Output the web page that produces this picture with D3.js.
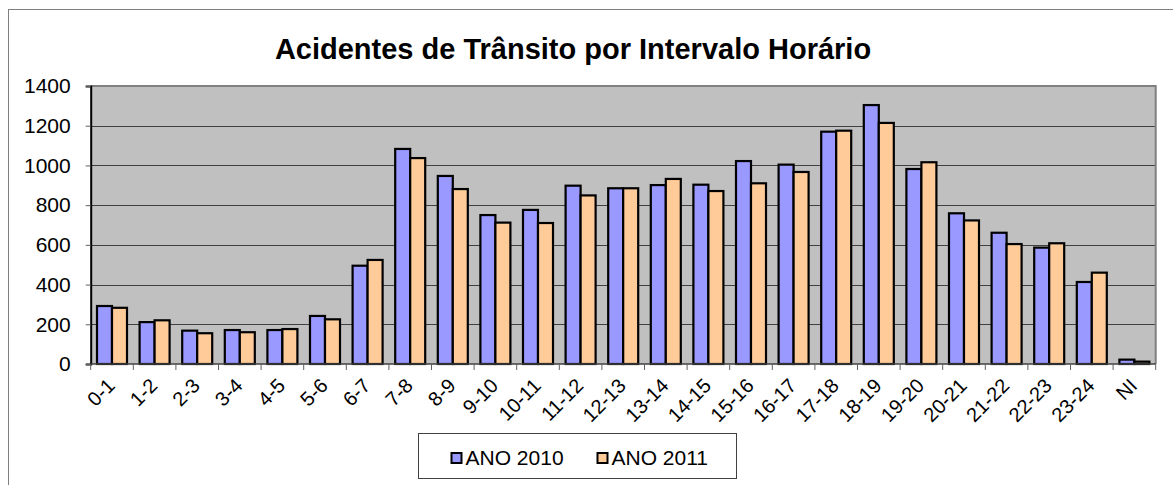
<!DOCTYPE html>
<html>
<head>
<meta charset="utf-8">
<script src="https://cdn.jsdelivr.net/npm/d3@7"></script>
<style>
  body { margin: 0; background: #fff; }
  svg text { font-family: Arial, "Liberation Sans", sans-serif; fill: #000; }
</style>
</head>
<body>
<div id="chart"></div>
<script>
// chart data
const categories = ["0-1","1-2","2-3","3-4","4-5","5-6","6-7","7-8","8-9","9-10","10-11","11-12",
  "12-13","13-14","14-15","15-16","16-17","17-18","18-19","19-20","20-21","21-22","22-23","23-24","NI"];
const ano2010 = [292, 211, 168, 171, 171, 242, 495, 1083, 947, 750, 776, 898,
  885, 901, 903, 1022, 1004, 1170, 1304, 982, 759, 661, 586, 413, 22];
const ano2011 = [283, 220, 155, 160, 176, 225, 524, 1037, 881, 712, 710, 849,
  885, 932, 871, 910, 967, 1175, 1214, 1016, 723, 604, 608, 460, 12];
const seriesNames = ["ANO 2010", "ANO 2011"];
const seriesColors = ["#9999FF", "#FFCC99"];
const yTicks = [0, 200, 400, 600, 800, 1000, 1200, 1400];
const title = "Acidentes de Trânsito por Intervalo Horário";

const width = 1173, height = 485;
const plot = { left: 90.7, top: 86, right: 1155.7, bottom: 364 };

const svg = d3.select("#chart").append("svg")
  .attr("width", width)
  .attr("height", height);

// outer chart frame (runs off the picture on the right / bottom)
svg.append("rect")
  .attr("x", 8.5).attr("y", 9.5)
  .attr("width", 1180).attr("height", 500)
  .attr("fill", "#fff")
  .attr("stroke", "#808080")
  .attr("stroke-width", 1);

svg.append("text")
  .attr("x", 573)
  .attr("y", 59)
  .attr("text-anchor", "middle")
  .style("font-size", "29px")
  .style("font-weight", "bold")
  .text(title);

// scales
const x0 = d3.scaleBand()
  .domain(categories)
  .range([plot.left, plot.right])
  .padding(0);

const x1 = d3.scaleBand()
  .domain(seriesNames)
  .range([0, x0.bandwidth()])
  .paddingInner(0)
  .paddingOuter(0.42);

const y = d3.scaleLinear()
  .domain([0, 1400])
  .range([plot.bottom, plot.top]);

// plot background
svg.append("rect")
  .attr("x", plot.left).attr("y", plot.top)
  .attr("width", plot.right - plot.left)
  .attr("height", plot.bottom - plot.top)
  .attr("fill", "#C0C0C0");

// gridlines
svg.append("g")
  .selectAll("line")
  .data(yTicks.filter(d => d > 0 && d < 1400))
  .join("line")
  .attr("x1", plot.left).attr("x2", plot.right)
  .attr("y1", d => Math.round(y(d)) + 0.5)
  .attr("y2", d => Math.round(y(d)) + 0.5)
  .attr("stroke", "#404040")
  .attr("stroke-width", 1);

// plot border top / right
svg.append("path")
  .attr("d", `M${plot.left},${plot.top}H${plot.right}V${plot.bottom}`)
  .attr("fill", "none")
  .attr("stroke", "#808080")
  .attr("stroke-width", 2);

// bars
const rows = categories.map((c, i) => ({ cat: c, values: [ano2010[i], ano2011[i]] }));

const groups = svg.append("g")
  .selectAll("g")
  .data(rows)
  .join("g")
  .attr("transform", d => `translate(${x0(d.cat)},0)`);

groups.selectAll("rect")
  .data(d => d.values.map((v, k) => ({ key: seriesNames[k], value: v, k })))
  .join("rect")
  .attr("x", d => x1(d.key))
  .attr("y", d => y(d.value))
  .attr("width", x1.bandwidth())
  .attr("height", d => y(0) - y(d.value))
  .attr("fill", d => seriesColors[d.k])
  .attr("stroke", "#000")
  .attr("stroke-width", 2.2);

// y axis
const yAxis = svg.append("g")
  .attr("transform", `translate(${plot.left},0)`)
  .call(d3.axisLeft(y).tickValues(yTicks).tickSize(5).tickPadding(15).tickFormat(d3.format("d")));
yAxis.select(".domain").attr("stroke", "#000").attr("stroke-width", 2);
yAxis.selectAll(".tick line").attr("stroke", "#606060");
yAxis.selectAll("text")
  .style("font-size", "21px")
  .style("font-family", "Arial, 'Liberation Sans', sans-serif");

// x axis: ticks sit on category boundaries
const xAxisG = svg.append("g");
xAxisG.append("line")
  .attr("x1", plot.left).attr("x2", plot.right)
  .attr("y1", plot.bottom).attr("y2", plot.bottom)
  .attr("stroke", "#404040")
  .attr("stroke-width", 1.5);
xAxisG.selectAll("line.tick")
  .data(categories.concat(["__end"]))
  .join("line")
  .attr("class", "tick")
  .attr("x1", (d, i) => i < categories.length ? x0(d) : plot.right)
  .attr("x2", (d, i) => i < categories.length ? x0(d) : plot.right)
  .attr("y1", plot.bottom).attr("y2", plot.bottom + 6)
  .attr("stroke", "#606060");

xAxisG.selectAll("text")
  .data(categories)
  .join("text")
  .attr("text-anchor", "end")
  .attr("transform", d => `translate(${x0(d) + x0.bandwidth() / 2 + 4},${plot.bottom + 23}) rotate(-45)`)
  .style("font-size", "20px")
  .text(d => d);

// legend
const legend = svg.append("g").attr("transform", "translate(418.5,433.5)");
legend.append("rect")
  .attr("width", 318).attr("height", 45)
  .attr("fill", "#fff")
  .attr("stroke", "#404040")
  .attr("stroke-width", 1);

const legendX = [33, 179];
const items = legend.selectAll("g.item")
  .data(seriesNames)
  .join("g")
  .attr("class", "item")
  .attr("transform", (d, i) => `translate(${legendX[i]},0)`);
items.append("rect")
  .attr("x", 0).attr("y", 19.5)
  .attr("width", 10).attr("height", 10)
  .attr("fill", (d, i) => seriesColors[i])
  .attr("stroke", "#000")
  .attr("stroke-width", 2);
items.append("text")
  .attr("x", 14)
  .attr("y", 31)
  .style("font-size", "21px")
  .text(d => d);
</script>
</body>
</html>
